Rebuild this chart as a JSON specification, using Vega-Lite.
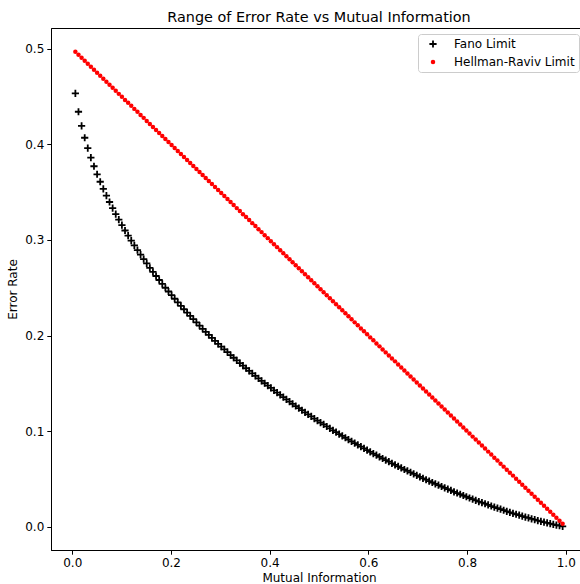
{
"$schema": "https://vega.github.io/schema/vega-lite/v6.json",
"width": 536, "height": 522,
"autosize": {"type": "none"},
"padding": {"left": 51, "top": 28, "right": -7, "bottom": 34},
"background": "white",
"title": {"text": "Range of Error Rate vs Mutual Information", "font": "DejaVu Sans", "fontSize": 14.4, "fontWeight": "normal", "color": "black", "anchor": "middle", "baseline": "alphabetic", "offset": -8},
"config": {
  "view": {"stroke": "black", "strokeWidth": 1},
  "axis": {"domainColor": "black", "domainWidth": 1, "tickColor": "black", "tickWidth": 1, "tickSize": 4.2, "labelFont": "DejaVu Sans", "labelFontSize": 12, "labelColor": "black", "titleFont": "DejaVu Sans", "titleFontSize": 12, "titleFontWeight": "normal", "titleColor": "black", "grid": false, "labelFlush": false, "labelOverlap": false, "labelBound": false}
},
"data": {"values": [
{"mi":0.0063,"pe":0.4533,"limit":"Fano Limit"},{"mi":0.0126,"pe":0.4341,"limit":"Fano Limit"},{"mi":0.0189,"pe":0.4193,"limit":"Fano Limit"},{"mi":0.0252,"pe":0.4069,"limit":"Fano Limit"},{"mi":0.0314,"pe":0.3960,"limit":"Fano Limit"},{"mi":0.0377,"pe":0.3861,"limit":"Fano Limit"},{"mi":0.0440,"pe":0.3771,"limit":"Fano Limit"},{"mi":0.0503,"pe":0.3687,"limit":"Fano Limit"},{"mi":0.0566,"pe":0.3609,"limit":"Fano Limit"},{"mi":0.0629,"pe":0.3535,"limit":"Fano Limit"},
{"mi":0.0692,"pe":0.3464,"limit":"Fano Limit"},{"mi":0.0755,"pe":0.3397,"limit":"Fano Limit"},{"mi":0.0818,"pe":0.3333,"limit":"Fano Limit"},{"mi":0.0881,"pe":0.3271,"limit":"Fano Limit"},{"mi":0.0943,"pe":0.3212,"limit":"Fano Limit"},{"mi":0.1006,"pe":0.3155,"limit":"Fano Limit"},{"mi":0.1069,"pe":0.3099,"limit":"Fano Limit"},{"mi":0.1132,"pe":0.3046,"limit":"Fano Limit"},{"mi":0.1195,"pe":0.2993,"limit":"Fano Limit"},{"mi":0.1258,"pe":0.2943,"limit":"Fano Limit"},
{"mi":0.1321,"pe":0.2894,"limit":"Fano Limit"},{"mi":0.1384,"pe":0.2846,"limit":"Fano Limit"},{"mi":0.1447,"pe":0.2799,"limit":"Fano Limit"},{"mi":0.1509,"pe":0.2754,"limit":"Fano Limit"},{"mi":0.1572,"pe":0.2709,"limit":"Fano Limit"},{"mi":0.1635,"pe":0.2666,"limit":"Fano Limit"},{"mi":0.1698,"pe":0.2623,"limit":"Fano Limit"},{"mi":0.1761,"pe":0.2581,"limit":"Fano Limit"},{"mi":0.1824,"pe":0.2541,"limit":"Fano Limit"},{"mi":0.1887,"pe":0.2500,"limit":"Fano Limit"},
{"mi":0.1950,"pe":0.2461,"limit":"Fano Limit"},{"mi":0.2013,"pe":0.2423,"limit":"Fano Limit"},{"mi":0.2075,"pe":0.2385,"limit":"Fano Limit"},{"mi":0.2138,"pe":0.2348,"limit":"Fano Limit"},{"mi":0.2201,"pe":0.2311,"limit":"Fano Limit"},{"mi":0.2264,"pe":0.2275,"limit":"Fano Limit"},{"mi":0.2327,"pe":0.2240,"limit":"Fano Limit"},{"mi":0.2390,"pe":0.2205,"limit":"Fano Limit"},{"mi":0.2453,"pe":0.2171,"limit":"Fano Limit"},{"mi":0.2516,"pe":0.2137,"limit":"Fano Limit"},
{"mi":0.2579,"pe":0.2103,"limit":"Fano Limit"},{"mi":0.2642,"pe":0.2071,"limit":"Fano Limit"},{"mi":0.2704,"pe":0.2039,"limit":"Fano Limit"},{"mi":0.2767,"pe":0.2007,"limit":"Fano Limit"},{"mi":0.2830,"pe":0.1976,"limit":"Fano Limit"},{"mi":0.2893,"pe":0.1945,"limit":"Fano Limit"},{"mi":0.2956,"pe":0.1914,"limit":"Fano Limit"},{"mi":0.3019,"pe":0.1884,"limit":"Fano Limit"},{"mi":0.3082,"pe":0.1855,"limit":"Fano Limit"},{"mi":0.3145,"pe":0.1826,"limit":"Fano Limit"},
{"mi":0.3208,"pe":0.1796,"limit":"Fano Limit"},{"mi":0.3270,"pe":0.1768,"limit":"Fano Limit"},{"mi":0.3333,"pe":0.1740,"limit":"Fano Limit"},{"mi":0.3396,"pe":0.1712,"limit":"Fano Limit"},{"mi":0.3459,"pe":0.1685,"limit":"Fano Limit"},{"mi":0.3522,"pe":0.1658,"limit":"Fano Limit"},{"mi":0.3585,"pe":0.1631,"limit":"Fano Limit"},{"mi":0.3648,"pe":0.1604,"limit":"Fano Limit"},{"mi":0.3711,"pe":0.1578,"limit":"Fano Limit"},{"mi":0.3774,"pe":0.1552,"limit":"Fano Limit"},
{"mi":0.3836,"pe":0.1527,"limit":"Fano Limit"},{"mi":0.3899,"pe":0.1501,"limit":"Fano Limit"},{"mi":0.3962,"pe":0.1476,"limit":"Fano Limit"},{"mi":0.4025,"pe":0.1452,"limit":"Fano Limit"},{"mi":0.4088,"pe":0.1427,"limit":"Fano Limit"},{"mi":0.4151,"pe":0.1403,"limit":"Fano Limit"},{"mi":0.4214,"pe":0.1379,"limit":"Fano Limit"},{"mi":0.4277,"pe":0.1355,"limit":"Fano Limit"},{"mi":0.4340,"pe":0.1332,"limit":"Fano Limit"},{"mi":0.4403,"pe":0.1309,"limit":"Fano Limit"},
{"mi":0.4465,"pe":0.1286,"limit":"Fano Limit"},{"mi":0.4528,"pe":0.1263,"limit":"Fano Limit"},{"mi":0.4591,"pe":0.1241,"limit":"Fano Limit"},{"mi":0.4654,"pe":0.1219,"limit":"Fano Limit"},{"mi":0.4717,"pe":0.1196,"limit":"Fano Limit"},{"mi":0.4780,"pe":0.1175,"limit":"Fano Limit"},{"mi":0.4843,"pe":0.1154,"limit":"Fano Limit"},{"mi":0.4906,"pe":0.1132,"limit":"Fano Limit"},{"mi":0.4969,"pe":0.1111,"limit":"Fano Limit"},{"mi":0.5031,"pe":0.1090,"limit":"Fano Limit"},
{"mi":0.5094,"pe":0.1070,"limit":"Fano Limit"},{"mi":0.5157,"pe":0.1049,"limit":"Fano Limit"},{"mi":0.5220,"pe":0.1029,"limit":"Fano Limit"},{"mi":0.5283,"pe":0.1009,"limit":"Fano Limit"},{"mi":0.5346,"pe":0.0989,"limit":"Fano Limit"},{"mi":0.5409,"pe":0.0970,"limit":"Fano Limit"},{"mi":0.5472,"pe":0.0950,"limit":"Fano Limit"},{"mi":0.5535,"pe":0.0931,"limit":"Fano Limit"},{"mi":0.5597,"pe":0.0912,"limit":"Fano Limit"},{"mi":0.5660,"pe":0.0893,"limit":"Fano Limit"},
{"mi":0.5723,"pe":0.0874,"limit":"Fano Limit"},{"mi":0.5786,"pe":0.0856,"limit":"Fano Limit"},{"mi":0.5849,"pe":0.0838,"limit":"Fano Limit"},{"mi":0.5912,"pe":0.0819,"limit":"Fano Limit"},{"mi":0.5975,"pe":0.0801,"limit":"Fano Limit"},{"mi":0.6038,"pe":0.0784,"limit":"Fano Limit"},{"mi":0.6101,"pe":0.0766,"limit":"Fano Limit"},{"mi":0.6164,"pe":0.0749,"limit":"Fano Limit"},{"mi":0.6226,"pe":0.0732,"limit":"Fano Limit"},{"mi":0.6289,"pe":0.0714,"limit":"Fano Limit"},
{"mi":0.6352,"pe":0.0697,"limit":"Fano Limit"},{"mi":0.6415,"pe":0.0681,"limit":"Fano Limit"},{"mi":0.6478,"pe":0.0664,"limit":"Fano Limit"},{"mi":0.6541,"pe":0.0648,"limit":"Fano Limit"},{"mi":0.6604,"pe":0.0632,"limit":"Fano Limit"},{"mi":0.6667,"pe":0.0615,"limit":"Fano Limit"},{"mi":0.6730,"pe":0.0599,"limit":"Fano Limit"},{"mi":0.6792,"pe":0.0584,"limit":"Fano Limit"},{"mi":0.6855,"pe":0.0568,"limit":"Fano Limit"},{"mi":0.6918,"pe":0.0553,"limit":"Fano Limit"},
{"mi":0.6981,"pe":0.0538,"limit":"Fano Limit"},{"mi":0.7044,"pe":0.0522,"limit":"Fano Limit"},{"mi":0.7107,"pe":0.0507,"limit":"Fano Limit"},{"mi":0.7170,"pe":0.0492,"limit":"Fano Limit"},{"mi":0.7233,"pe":0.0478,"limit":"Fano Limit"},{"mi":0.7296,"pe":0.0463,"limit":"Fano Limit"},{"mi":0.7358,"pe":0.0449,"limit":"Fano Limit"},{"mi":0.7421,"pe":0.0435,"limit":"Fano Limit"},{"mi":0.7484,"pe":0.0421,"limit":"Fano Limit"},{"mi":0.7547,"pe":0.0407,"limit":"Fano Limit"},
{"mi":0.7610,"pe":0.0393,"limit":"Fano Limit"},{"mi":0.7673,"pe":0.0380,"limit":"Fano Limit"},{"mi":0.7736,"pe":0.0366,"limit":"Fano Limit"},{"mi":0.7799,"pe":0.0353,"limit":"Fano Limit"},{"mi":0.7862,"pe":0.0340,"limit":"Fano Limit"},{"mi":0.7925,"pe":0.0327,"limit":"Fano Limit"},{"mi":0.7987,"pe":0.0314,"limit":"Fano Limit"},{"mi":0.8050,"pe":0.0301,"limit":"Fano Limit"},{"mi":0.8113,"pe":0.0289,"limit":"Fano Limit"},{"mi":0.8176,"pe":0.0277,"limit":"Fano Limit"},
{"mi":0.8239,"pe":0.0264,"limit":"Fano Limit"},{"mi":0.8302,"pe":0.0252,"limit":"Fano Limit"},{"mi":0.8365,"pe":0.0241,"limit":"Fano Limit"},{"mi":0.8428,"pe":0.0229,"limit":"Fano Limit"},{"mi":0.8491,"pe":0.0217,"limit":"Fano Limit"},{"mi":0.8553,"pe":0.0206,"limit":"Fano Limit"},{"mi":0.8616,"pe":0.0195,"limit":"Fano Limit"},{"mi":0.8679,"pe":0.0184,"limit":"Fano Limit"},{"mi":0.8742,"pe":0.0173,"limit":"Fano Limit"},{"mi":0.8805,"pe":0.0162,"limit":"Fano Limit"},
{"mi":0.8868,"pe":0.0151,"limit":"Fano Limit"},{"mi":0.8931,"pe":0.0141,"limit":"Fano Limit"},{"mi":0.8994,"pe":0.0131,"limit":"Fano Limit"},{"mi":0.9057,"pe":0.0121,"limit":"Fano Limit"},{"mi":0.9119,"pe":0.0111,"limit":"Fano Limit"},{"mi":0.9182,"pe":0.0101,"limit":"Fano Limit"},{"mi":0.9245,"pe":0.0092,"limit":"Fano Limit"},{"mi":0.9308,"pe":0.0083,"limit":"Fano Limit"},{"mi":0.9371,"pe":0.0074,"limit":"Fano Limit"},{"mi":0.9434,"pe":0.0065,"limit":"Fano Limit"},
{"mi":0.9497,"pe":0.0057,"limit":"Fano Limit"},{"mi":0.9560,"pe":0.0048,"limit":"Fano Limit"},{"mi":0.9623,"pe":0.0040,"limit":"Fano Limit"},{"mi":0.9686,"pe":0.0032,"limit":"Fano Limit"},{"mi":0.9748,"pe":0.0025,"limit":"Fano Limit"},{"mi":0.9811,"pe":0.0018,"limit":"Fano Limit"},{"mi":0.9874,"pe":0.0011,"limit":"Fano Limit"},{"mi":0.9937,"pe":0.0005,"limit":"Fano Limit"},
{"mi":0.0063,"pe":0.4969,"limit":"Hellman-Raviv Limit"},{"mi":0.0126,"pe":0.4937,"limit":"Hellman-Raviv Limit"},{"mi":0.0189,"pe":0.4906,"limit":"Hellman-Raviv Limit"},{"mi":0.0252,"pe":0.4874,"limit":"Hellman-Raviv Limit"},{"mi":0.0314,"pe":0.4843,"limit":"Hellman-Raviv Limit"},{"mi":0.0377,"pe":0.4811,"limit":"Hellman-Raviv Limit"},{"mi":0.0440,"pe":0.4780,"limit":"Hellman-Raviv Limit"},{"mi":0.0503,"pe":0.4748,"limit":"Hellman-Raviv Limit"},{"mi":0.0566,"pe":0.4717,"limit":"Hellman-Raviv Limit"},{"mi":0.0629,"pe":0.4686,"limit":"Hellman-Raviv Limit"},
{"mi":0.0692,"pe":0.4654,"limit":"Hellman-Raviv Limit"},{"mi":0.0755,"pe":0.4623,"limit":"Hellman-Raviv Limit"},{"mi":0.0818,"pe":0.4591,"limit":"Hellman-Raviv Limit"},{"mi":0.0881,"pe":0.4560,"limit":"Hellman-Raviv Limit"},{"mi":0.0943,"pe":0.4528,"limit":"Hellman-Raviv Limit"},{"mi":0.1006,"pe":0.4497,"limit":"Hellman-Raviv Limit"},{"mi":0.1069,"pe":0.4465,"limit":"Hellman-Raviv Limit"},{"mi":0.1132,"pe":0.4434,"limit":"Hellman-Raviv Limit"},{"mi":0.1195,"pe":0.4403,"limit":"Hellman-Raviv Limit"},{"mi":0.1258,"pe":0.4371,"limit":"Hellman-Raviv Limit"},
{"mi":0.1321,"pe":0.4340,"limit":"Hellman-Raviv Limit"},{"mi":0.1384,"pe":0.4308,"limit":"Hellman-Raviv Limit"},{"mi":0.1447,"pe":0.4277,"limit":"Hellman-Raviv Limit"},{"mi":0.1509,"pe":0.4245,"limit":"Hellman-Raviv Limit"},{"mi":0.1572,"pe":0.4214,"limit":"Hellman-Raviv Limit"},{"mi":0.1635,"pe":0.4182,"limit":"Hellman-Raviv Limit"},{"mi":0.1698,"pe":0.4151,"limit":"Hellman-Raviv Limit"},{"mi":0.1761,"pe":0.4119,"limit":"Hellman-Raviv Limit"},{"mi":0.1824,"pe":0.4088,"limit":"Hellman-Raviv Limit"},{"mi":0.1887,"pe":0.4057,"limit":"Hellman-Raviv Limit"},
{"mi":0.1950,"pe":0.4025,"limit":"Hellman-Raviv Limit"},{"mi":0.2013,"pe":0.3994,"limit":"Hellman-Raviv Limit"},{"mi":0.2075,"pe":0.3962,"limit":"Hellman-Raviv Limit"},{"mi":0.2138,"pe":0.3931,"limit":"Hellman-Raviv Limit"},{"mi":0.2201,"pe":0.3899,"limit":"Hellman-Raviv Limit"},{"mi":0.2264,"pe":0.3868,"limit":"Hellman-Raviv Limit"},{"mi":0.2327,"pe":0.3836,"limit":"Hellman-Raviv Limit"},{"mi":0.2390,"pe":0.3805,"limit":"Hellman-Raviv Limit"},{"mi":0.2453,"pe":0.3774,"limit":"Hellman-Raviv Limit"},{"mi":0.2516,"pe":0.3742,"limit":"Hellman-Raviv Limit"},
{"mi":0.2579,"pe":0.3711,"limit":"Hellman-Raviv Limit"},{"mi":0.2642,"pe":0.3679,"limit":"Hellman-Raviv Limit"},{"mi":0.2704,"pe":0.3648,"limit":"Hellman-Raviv Limit"},{"mi":0.2767,"pe":0.3616,"limit":"Hellman-Raviv Limit"},{"mi":0.2830,"pe":0.3585,"limit":"Hellman-Raviv Limit"},{"mi":0.2893,"pe":0.3553,"limit":"Hellman-Raviv Limit"},{"mi":0.2956,"pe":0.3522,"limit":"Hellman-Raviv Limit"},{"mi":0.3019,"pe":0.3491,"limit":"Hellman-Raviv Limit"},{"mi":0.3082,"pe":0.3459,"limit":"Hellman-Raviv Limit"},{"mi":0.3145,"pe":0.3428,"limit":"Hellman-Raviv Limit"},
{"mi":0.3208,"pe":0.3396,"limit":"Hellman-Raviv Limit"},{"mi":0.3270,"pe":0.3365,"limit":"Hellman-Raviv Limit"},{"mi":0.3333,"pe":0.3333,"limit":"Hellman-Raviv Limit"},{"mi":0.3396,"pe":0.3302,"limit":"Hellman-Raviv Limit"},{"mi":0.3459,"pe":0.3270,"limit":"Hellman-Raviv Limit"},{"mi":0.3522,"pe":0.3239,"limit":"Hellman-Raviv Limit"},{"mi":0.3585,"pe":0.3208,"limit":"Hellman-Raviv Limit"},{"mi":0.3648,"pe":0.3176,"limit":"Hellman-Raviv Limit"},{"mi":0.3711,"pe":0.3145,"limit":"Hellman-Raviv Limit"},{"mi":0.3774,"pe":0.3113,"limit":"Hellman-Raviv Limit"},
{"mi":0.3836,"pe":0.3082,"limit":"Hellman-Raviv Limit"},{"mi":0.3899,"pe":0.3050,"limit":"Hellman-Raviv Limit"},{"mi":0.3962,"pe":0.3019,"limit":"Hellman-Raviv Limit"},{"mi":0.4025,"pe":0.2987,"limit":"Hellman-Raviv Limit"},{"mi":0.4088,"pe":0.2956,"limit":"Hellman-Raviv Limit"},{"mi":0.4151,"pe":0.2925,"limit":"Hellman-Raviv Limit"},{"mi":0.4214,"pe":0.2893,"limit":"Hellman-Raviv Limit"},{"mi":0.4277,"pe":0.2862,"limit":"Hellman-Raviv Limit"},{"mi":0.4340,"pe":0.2830,"limit":"Hellman-Raviv Limit"},{"mi":0.4403,"pe":0.2799,"limit":"Hellman-Raviv Limit"},
{"mi":0.4465,"pe":0.2767,"limit":"Hellman-Raviv Limit"},{"mi":0.4528,"pe":0.2736,"limit":"Hellman-Raviv Limit"},{"mi":0.4591,"pe":0.2704,"limit":"Hellman-Raviv Limit"},{"mi":0.4654,"pe":0.2673,"limit":"Hellman-Raviv Limit"},{"mi":0.4717,"pe":0.2642,"limit":"Hellman-Raviv Limit"},{"mi":0.4780,"pe":0.2610,"limit":"Hellman-Raviv Limit"},{"mi":0.4843,"pe":0.2579,"limit":"Hellman-Raviv Limit"},{"mi":0.4906,"pe":0.2547,"limit":"Hellman-Raviv Limit"},{"mi":0.4969,"pe":0.2516,"limit":"Hellman-Raviv Limit"},{"mi":0.5031,"pe":0.2484,"limit":"Hellman-Raviv Limit"},
{"mi":0.5094,"pe":0.2453,"limit":"Hellman-Raviv Limit"},{"mi":0.5157,"pe":0.2421,"limit":"Hellman-Raviv Limit"},{"mi":0.5220,"pe":0.2390,"limit":"Hellman-Raviv Limit"},{"mi":0.5283,"pe":0.2358,"limit":"Hellman-Raviv Limit"},{"mi":0.5346,"pe":0.2327,"limit":"Hellman-Raviv Limit"},{"mi":0.5409,"pe":0.2296,"limit":"Hellman-Raviv Limit"},{"mi":0.5472,"pe":0.2264,"limit":"Hellman-Raviv Limit"},{"mi":0.5535,"pe":0.2233,"limit":"Hellman-Raviv Limit"},{"mi":0.5597,"pe":0.2201,"limit":"Hellman-Raviv Limit"},{"mi":0.5660,"pe":0.2170,"limit":"Hellman-Raviv Limit"},
{"mi":0.5723,"pe":0.2138,"limit":"Hellman-Raviv Limit"},{"mi":0.5786,"pe":0.2107,"limit":"Hellman-Raviv Limit"},{"mi":0.5849,"pe":0.2075,"limit":"Hellman-Raviv Limit"},{"mi":0.5912,"pe":0.2044,"limit":"Hellman-Raviv Limit"},{"mi":0.5975,"pe":0.2013,"limit":"Hellman-Raviv Limit"},{"mi":0.6038,"pe":0.1981,"limit":"Hellman-Raviv Limit"},{"mi":0.6101,"pe":0.1950,"limit":"Hellman-Raviv Limit"},{"mi":0.6164,"pe":0.1918,"limit":"Hellman-Raviv Limit"},{"mi":0.6226,"pe":0.1887,"limit":"Hellman-Raviv Limit"},{"mi":0.6289,"pe":0.1855,"limit":"Hellman-Raviv Limit"},
{"mi":0.6352,"pe":0.1824,"limit":"Hellman-Raviv Limit"},{"mi":0.6415,"pe":0.1792,"limit":"Hellman-Raviv Limit"},{"mi":0.6478,"pe":0.1761,"limit":"Hellman-Raviv Limit"},{"mi":0.6541,"pe":0.1730,"limit":"Hellman-Raviv Limit"},{"mi":0.6604,"pe":0.1698,"limit":"Hellman-Raviv Limit"},{"mi":0.6667,"pe":0.1667,"limit":"Hellman-Raviv Limit"},{"mi":0.6730,"pe":0.1635,"limit":"Hellman-Raviv Limit"},{"mi":0.6792,"pe":0.1604,"limit":"Hellman-Raviv Limit"},{"mi":0.6855,"pe":0.1572,"limit":"Hellman-Raviv Limit"},{"mi":0.6918,"pe":0.1541,"limit":"Hellman-Raviv Limit"},
{"mi":0.6981,"pe":0.1509,"limit":"Hellman-Raviv Limit"},{"mi":0.7044,"pe":0.1478,"limit":"Hellman-Raviv Limit"},{"mi":0.7107,"pe":0.1447,"limit":"Hellman-Raviv Limit"},{"mi":0.7170,"pe":0.1415,"limit":"Hellman-Raviv Limit"},{"mi":0.7233,"pe":0.1384,"limit":"Hellman-Raviv Limit"},{"mi":0.7296,"pe":0.1352,"limit":"Hellman-Raviv Limit"},{"mi":0.7358,"pe":0.1321,"limit":"Hellman-Raviv Limit"},{"mi":0.7421,"pe":0.1289,"limit":"Hellman-Raviv Limit"},{"mi":0.7484,"pe":0.1258,"limit":"Hellman-Raviv Limit"},{"mi":0.7547,"pe":0.1226,"limit":"Hellman-Raviv Limit"},
{"mi":0.7610,"pe":0.1195,"limit":"Hellman-Raviv Limit"},{"mi":0.7673,"pe":0.1164,"limit":"Hellman-Raviv Limit"},{"mi":0.7736,"pe":0.1132,"limit":"Hellman-Raviv Limit"},{"mi":0.7799,"pe":0.1101,"limit":"Hellman-Raviv Limit"},{"mi":0.7862,"pe":0.1069,"limit":"Hellman-Raviv Limit"},{"mi":0.7925,"pe":0.1038,"limit":"Hellman-Raviv Limit"},{"mi":0.7987,"pe":0.1006,"limit":"Hellman-Raviv Limit"},{"mi":0.8050,"pe":0.0975,"limit":"Hellman-Raviv Limit"},{"mi":0.8113,"pe":0.0943,"limit":"Hellman-Raviv Limit"},{"mi":0.8176,"pe":0.0912,"limit":"Hellman-Raviv Limit"},
{"mi":0.8239,"pe":0.0881,"limit":"Hellman-Raviv Limit"},{"mi":0.8302,"pe":0.0849,"limit":"Hellman-Raviv Limit"},{"mi":0.8365,"pe":0.0818,"limit":"Hellman-Raviv Limit"},{"mi":0.8428,"pe":0.0786,"limit":"Hellman-Raviv Limit"},{"mi":0.8491,"pe":0.0755,"limit":"Hellman-Raviv Limit"},{"mi":0.8553,"pe":0.0723,"limit":"Hellman-Raviv Limit"},{"mi":0.8616,"pe":0.0692,"limit":"Hellman-Raviv Limit"},{"mi":0.8679,"pe":0.0660,"limit":"Hellman-Raviv Limit"},{"mi":0.8742,"pe":0.0629,"limit":"Hellman-Raviv Limit"},{"mi":0.8805,"pe":0.0597,"limit":"Hellman-Raviv Limit"},
{"mi":0.8868,"pe":0.0566,"limit":"Hellman-Raviv Limit"},{"mi":0.8931,"pe":0.0535,"limit":"Hellman-Raviv Limit"},{"mi":0.8994,"pe":0.0503,"limit":"Hellman-Raviv Limit"},{"mi":0.9057,"pe":0.0472,"limit":"Hellman-Raviv Limit"},{"mi":0.9119,"pe":0.0440,"limit":"Hellman-Raviv Limit"},{"mi":0.9182,"pe":0.0409,"limit":"Hellman-Raviv Limit"},{"mi":0.9245,"pe":0.0377,"limit":"Hellman-Raviv Limit"},{"mi":0.9308,"pe":0.0346,"limit":"Hellman-Raviv Limit"},{"mi":0.9371,"pe":0.0314,"limit":"Hellman-Raviv Limit"},{"mi":0.9434,"pe":0.0283,"limit":"Hellman-Raviv Limit"},
{"mi":0.9497,"pe":0.0252,"limit":"Hellman-Raviv Limit"},{"mi":0.9560,"pe":0.0220,"limit":"Hellman-Raviv Limit"},{"mi":0.9623,"pe":0.0189,"limit":"Hellman-Raviv Limit"},{"mi":0.9686,"pe":0.0157,"limit":"Hellman-Raviv Limit"},{"mi":0.9748,"pe":0.0126,"limit":"Hellman-Raviv Limit"},{"mi":0.9811,"pe":0.0094,"limit":"Hellman-Raviv Limit"},{"mi":0.9874,"pe":0.0063,"limit":"Hellman-Raviv Limit"},{"mi":0.9937,"pe":0.0031,"limit":"Hellman-Raviv Limit"}
]},
"mark": {"type": "point", "filled": true, "size": 20, "opacity": 1, "strokeWidth": 0},
"encoding": {
  "x": {"field": "mi", "type": "quantitative", "scale": {"domain": [-0.0431, 1.0431], "nice": false, "zero": false}, "axis": {"title": "Mutual Information", "values": [0, 0.2, 0.4, 0.6, 0.8, 1.0], "format": ".1f", "labelPadding": 3, "titlePadding": 4}},
  "y": {"field": "pe", "type": "quantitative", "scale": {"domain": [-0.0243, 0.5217], "nice": false, "zero": false}, "axis": {"title": "Error Rate", "values": [0, 0.1, 0.2, 0.3, 0.4, 0.5], "format": ".1f", "labelPadding": 3, "titlePadding": 5}},
  "color": {"field": "limit", "type": "nominal", "scale": {"domain": ["Fano Limit", "Hellman-Raviv Limit"], "range": ["#000000", "#ff0000"]}, "legend": {"title": null, "orient": "none", "legendX": 367, "legendY": 6, "padding": 4, "rowPadding": 6, "symbolOffset": 5, "labelOffset": 15, "symbolSize": 20, "symbolStrokeWidth": 0, "strokeColor": "#cccccc", "fillColor": "rgba(255,255,255,0.8)", "cornerRadius": 3, "labelFont": "DejaVu Sans", "labelFontSize": 12, "labelColor": "black"}},
  "shape": {"field": "limit", "type": "nominal", "scale": {"domain": ["Fano Limit", "Hellman-Raviv Limit"], "range": ["M-1.61,-0.4L-0.4,-0.4L-0.4,-1.61L0.4,-1.61L0.4,-0.4L1.61,-0.4L1.61,0.4L0.4,0.4L0.4,1.61L-0.4,1.61L-0.4,0.4L-1.61,0.4Z", "circle"]}, "legend": {"title": null, "orient": "none", "legendX": 367, "legendY": 6, "padding": 4, "rowPadding": 6, "symbolOffset": 5, "labelOffset": 15, "symbolSize": 20, "symbolStrokeWidth": 0, "strokeColor": "#cccccc", "fillColor": "rgba(255,255,255,0.8)", "cornerRadius": 3, "labelFont": "DejaVu Sans", "labelFontSize": 12, "labelColor": "black"}}
}
}
